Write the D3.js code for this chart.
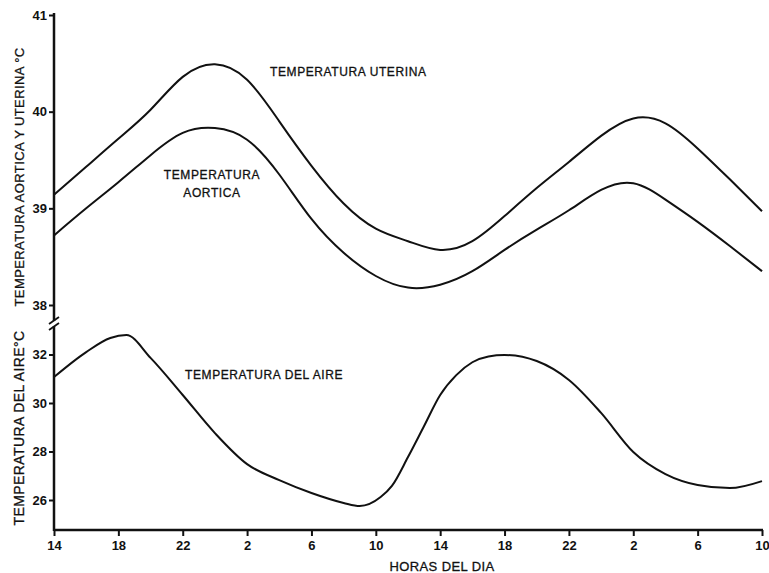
<!DOCTYPE html>
<html>
<head>
<meta charset="utf-8">
<script src="https://cdn.jsdelivr.net/npm/d3@7"></script>
<style>
  body { margin: 0; background: #fff; }
  svg { display: block; font-family: "Liberation Sans", Arial, sans-serif; }
  .tick text { font-size: 13px; font-weight: bold; fill: #111; }
  .tick line { stroke: #111; stroke-width: 2px; }
  .lbl { font-size: 12px; fill: #111; stroke: #111; stroke-width: 0.3px; letter-spacing: 0.6px; }
  .ttl { font-size: 13px; fill: #111; stroke: #111; stroke-width: 0.3px; letter-spacing: 0.4px; }
</style>
</head>
<body>
<svg id="chart"></svg>
<script>
let width = 769;
let height = 573;

// horas desde las 14 h del primer dia
const hourTicks = [0, 4, 8, 12, 16, 20, 24, 28, 32, 36, 40, 44];
const hourLabels = ["14", "18", "22", "2", "6", "10", "14", "18", "22", "2", "6", "10"];

const bodyHours = [0, 2, 4, 6, 8, 10, 12, 14, 16, 18, 20, 22, 24, 26, 28, 30, 32, 34, 36, 38, 40, 42, 44];
const uterina = [39.14, 39.43, 39.72, 40.02, 40.36, 40.49, 40.33, 39.90, 39.44, 39.05, 38.79, 38.66,
                 38.57, 38.66, 38.92, 39.21, 39.48, 39.75, 39.93, 39.88, 39.62, 39.30, 38.97];
const aortica = [38.72, 39.00, 39.27, 39.55, 39.78, 39.83, 39.71, 39.35, 38.89, 38.54, 38.30, 38.18,
                 38.21, 38.35, 38.57, 38.78, 38.98, 39.19, 39.26, 39.09, 38.86, 38.61, 38.35];

const airHours = [0, 2, 3.5, 4.5, 6, 8, 10, 12, 14, 16, 18, 19, 20.3, 21, 22, 23, 24, 25, 26, 27, 28, 30, 32, 34, 36, 38, 40, 42, 44];
const aire = [31.07, 32.10, 32.68, 32.80, 31.86, 30.33, 28.76, 27.48, 26.82, 26.29, 25.88, 25.75, 26.12, 26.58,
              27.77, 29.05, 30.33, 31.15, 31.68, 31.92, 31.98, 31.73, 30.95, 29.59, 27.98, 27.07, 26.62, 26.49, 26.78];

const upperTicks = [38, 39, 40, 41];
const lowerTicks = [26, 28, 30, 32];

function main() {
    let svg = d3.select('#chart')
        .attr('width', width)
        .attr('height', height);

    let x = d3.scaleLinear().domain([0, 44]).range([54, 762]);
    let yUp = d3.scaleLinear().domain([38, 41]).range([305, 15]);
    let yLow = d3.scaleLinear().domain([26, 32]).range([500, 354.5]);
    let axisX = 54, baseY = 530;

    // eje x
    let gx = svg.append('g')
        .attr('transform', `translate(0, ${baseY})`)
        .call(d3.axisBottom(x).tickValues(hourTicks)
            .tickFormat((d, i) => hourLabels[i]).tickSize(6).tickSizeOuter(0).tickPadding(5));
    gx.select('.domain').remove();
    svg.append('line')
        .attr('x1', axisX).attr('x2', 763).attr('y1', baseY).attr('y2', baseY)
        .attr('stroke', '#111').attr('stroke-width', 2.5);

    // ejes y
    let gu = svg.append('g')
        .attr('transform', `translate(${axisX}, 0)`)
        .call(d3.axisLeft(yUp).tickValues(upperTicks).tickFormat(d3.format('d')).tickSize(5).tickPadding(2));
    gu.select('.domain').remove();
    let gl = svg.append('g')
        .attr('transform', `translate(${axisX}, 0)`)
        .call(d3.axisLeft(yLow).tickValues(lowerTicks).tickFormat(d3.format('d')).tickSize(5).tickPadding(2));
    gl.select('.domain').remove();

    svg.append('line')
        .attr('x1', axisX).attr('x2', axisX).attr('y1', 13).attr('y2', baseY + 1)
        .attr('stroke', '#111').attr('stroke-width', 2.5);

    // corte del eje
    svg.append('rect').attr('x', axisX - 3).attr('y', 321).attr('width', 6).attr('height', 5).attr('fill', '#fff');
    svg.append('line').attr('x1', 49).attr('y1', 324).attr('x2', 59).attr('y2', 317)
        .attr('stroke', '#111').attr('stroke-width', 1.8);
    svg.append('line').attr('x1', 49).attr('y1', 330).attr('x2', 59).attr('y2', 323)
        .attr('stroke', '#111').attr('stroke-width', 1.8);

    // curvas
    let lineUp = d3.line()
        .x((d, i) => x(bodyHours[i]))
        .y(d => yUp(d))
        .curve(d3.curveNatural);
    let lineAir = d3.line()
        .x((d, i) => x(airHours[i]))
        .y(d => yLow(d))
        .curve(d3.curveMonotoneX);

    [uterina, aortica].forEach(s => {
        svg.append('path').datum(s)
            .attr('d', lineUp)
            .attr('fill', 'none').attr('stroke', '#111').attr('stroke-width', 2);
    });
    svg.append('path').datum(aire)
        .attr('d', lineAir)
        .attr('fill', 'none').attr('stroke', '#111').attr('stroke-width', 2);

    // rotulos
    svg.append('text').attr('class', 'lbl').attr('x', 270).attr('y', 76).text('TEMPERATURA UTERINA');
    svg.append('text').attr('class', 'lbl').attr('x', 212).attr('y', 179)
        .attr('text-anchor', 'middle').text('TEMPERATURA');
    svg.append('text').attr('class', 'lbl').attr('x', 212).attr('y', 197)
        .attr('text-anchor', 'middle').text('AORTICA');
    svg.append('text').attr('class', 'lbl').attr('x', 185).attr('y', 379).text('TEMPERATURA DEL AIRE');

    svg.append('text').attr('class', 'ttl')
        .attr('transform', 'translate(24, 177) rotate(-90)')
        .attr('text-anchor', 'middle')
        .text('TEMPERATURA  AORTICA  Y  UTERINA °C');
    svg.append('text').attr('class', 'ttl')
        .attr('transform', 'translate(24, 428) rotate(-90)')
        .attr('text-anchor', 'middle')
        .style('font-size', '14px')
        .text('TEMPERATURA DEL AIRE°C');
    svg.append('text').attr('class', 'ttl')
        .attr('x', 442).attr('y', 571)
        .attr('text-anchor', 'middle')
        .text('HORAS DEL DIA');
}
main()
</script>
</body>
</html>
